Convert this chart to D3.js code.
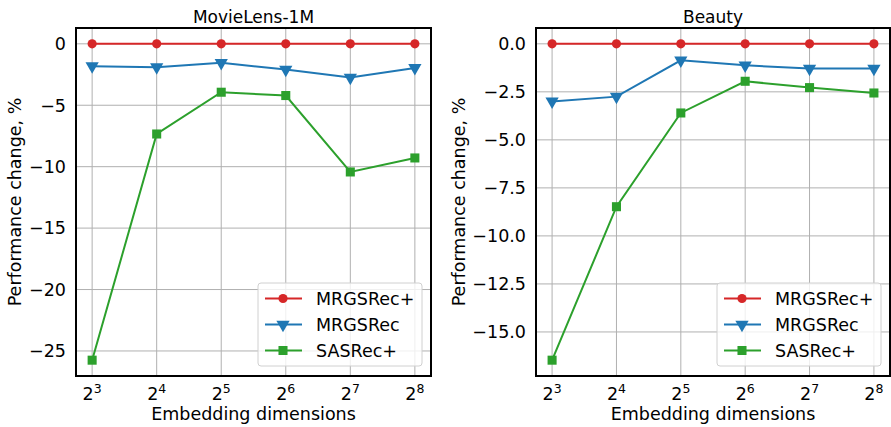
<!DOCTYPE html>
<html>
<head>
<meta charset="utf-8">
<script src="https://cdn.jsdelivr.net/npm/d3@7"></script>
<style>
  body { margin: 0; background: #fff; }
  svg text { font-family: "DejaVu Sans", sans-serif; fill: #000; }
</style>
</head>
<body>
<div id="chart"></div>
<script>
// x values are embedding dimensions 2^3 .. 2^8
const exponents = [3, 4, 5, 6, 7, 8];
const seriesNames = ["MRGSRec+", "MRGSRec", "SASRec+"];
const seriesColors = ["#d62728", "#1f77b4", "#2ca02c"];
const seriesSymbols = ["circle", "triangle", "square"];

const movielensMRGSRecPlus = [0, 0, 0, 0, 0, 0];
const movielensMRGSRec = [-1.82, -1.9, -1.55, -2.1, -2.75, -1.96];
const movielensSASRecPlus = [-25.75, -7.34, -3.94, -4.21, -10.43, -9.29];
const movielensYTicks = [0, -5, -10, -15, -20, -25];

const beautyMRGSRecPlus = [0, 0, 0, 0, 0, 0];
const beautyMRGSRec = [-3.0, -2.75, -0.86, -1.12, -1.29, -1.29];
const beautySASRecPlus = [-16.47, -8.48, -3.6, -1.95, -2.28, -2.56];
const beautyYTicks = [0, -2.5, -5, -7.5, -10, -12.5, -15];

const W = 891, H = 427;
const plotTop = 28, plotBottom = 376;
const fontSize = "17.5px";

const svg = d3.select("#chart")
    .append("svg")
    .attr("width", W)
    .attr("height", H);

function drawPanel(opts) {
    const { left, right, title, series, yTicks, yFormat, yLabelX } = opts;

    const all = series.flat();
    const lo = d3.min(all), hi = d3.max(all);
    const pad = (hi - lo) * 0.05;

    const x = d3.scaleLog().base(2)
        .domain([Math.pow(2, 2.75), Math.pow(2, 8.25)])
        .range([left, right]);

    const y = d3.scaleLinear()
        .domain([lo - pad, hi + pad])
        .range([plotBottom, plotTop]);

    const g = svg.append("g");

    // grid
    g.append("g")
        .selectAll("line")
        .data(exponents)
        .join("line")
        .attr("x1", d => x(Math.pow(2, d)))
        .attr("x2", d => x(Math.pow(2, d)))
        .attr("y1", plotTop)
        .attr("y2", plotBottom)
        .attr("stroke", "#b0b0b0")
        .attr("stroke-width", 1);

    g.append("g")
        .selectAll("line")
        .data(yTicks)
        .join("line")
        .attr("x1", left)
        .attr("x2", right)
        .attr("y1", d => y(d))
        .attr("y2", d => y(d))
        .attr("stroke", "#b0b0b0")
        .attr("stroke-width", 1);

    // y tick labels
    g.append("g")
        .selectAll("text")
        .data(yTicks)
        .join("text")
        .attr("x", left - 10)
        .attr("y", d => y(d))
        .attr("dy", "0.36em")
        .attr("text-anchor", "end")
        .style("font-size", fontSize)
        .text(d => yFormat(d));

    // x tick labels: 2^n
    const xt = g.append("g")
        .selectAll("text")
        .data(exponents)
        .join("text")
        .attr("x", d => x(Math.pow(2, d)))
        .attr("y", 399.5)
        .attr("text-anchor", "middle")
        .style("font-size", fontSize);
    xt.append("tspan").text("2");
    xt.append("tspan")
        .attr("dy", -7)
        .style("font-size", "12.5px")
        .text(d => d);

    // lines and markers
    const line = d3.line()
        .x((d, i) => x(Math.pow(2, exponents[i])))
        .y(d => y(d));

    const symbolFor = {
        circle: d3.symbol().type(d3.symbolCircle).size(66),
        square: d3.symbol().type(d3.symbolSquare).size(82),
        triangle: d3.symbol().type(d3.symbolTriangle).size(76)
    };

    series.forEach((vals, si) => {
        g.append("path")
            .datum(vals)
            .attr("fill", "none")
            .attr("stroke", seriesColors[si])
            .attr("stroke-width", 2)
            .attr("d", line);

        g.append("g")
            .selectAll("path")
            .data(vals)
            .join("path")
            .attr("d", symbolFor[seriesSymbols[si]])
            .attr("transform", (d, i) => {
                const rot = seriesSymbols[si] === "triangle" ? " rotate(180)" : "";
                return `translate(${x(Math.pow(2, exponents[i]))},${y(d)})${rot}`;
            })
            .attr("fill", seriesColors[si]);
    });

    // frame
    g.append("rect")
        .attr("x", left)
        .attr("y", plotTop)
        .attr("width", right - left)
        .attr("height", plotBottom - plotTop)
        .attr("fill", "none")
        .attr("stroke", "#000")
        .attr("stroke-width", 2);

    // title
    g.append("text")
        .attr("x", (left + right) / 2)
        .attr("y", 23)
        .attr("text-anchor", "middle")
        .style("font-size", "17px")
        .text(title);

    // axis labels
    g.append("text")
        .attr("x", (left + right) / 2)
        .attr("y", 420)
        .attr("text-anchor", "middle")
        .style("font-size", fontSize)
        .text("Embedding dimensions");

    g.append("text")
        .attr("transform", `translate(${yLabelX},${(plotTop + plotBottom) / 2}) rotate(-90)`)
        .attr("text-anchor", "middle")
        .style("font-size", fontSize)
        .text("Performance change, %");

    // legend
    const lgW = 164, lgH = 83;
    const lgX = right - 9 - lgW, lgY = plotBottom - 10 - lgH;
    const lg = g.append("g").attr("transform", `translate(${lgX},${lgY})`);
    lg.append("rect")
        .attr("width", lgW)
        .attr("height", lgH)
        .attr("rx", 3)
        .attr("fill", "#fff")
        .attr("fill-opacity", 0.8)
        .attr("stroke", "#d0d0d0");

    seriesNames.forEach((name, si) => {
        const cy = 15.5 + si * 26;
        lg.append("line")
            .attr("x1", 7).attr("x2", 44)
            .attr("y1", cy).attr("y2", cy)
            .attr("stroke", seriesColors[si])
            .attr("stroke-width", 2);
        const rot = seriesSymbols[si] === "triangle" ? " rotate(180)" : "";
        lg.append("path")
            .attr("d", symbolFor[seriesSymbols[si]])
            .attr("transform", `translate(25,${cy})${rot}`)
            .attr("fill", seriesColors[si]);
        lg.append("text")
            .attr("x", 58)
            .attr("y", cy)
            .attr("dy", "0.36em")
            .style("font-size", fontSize)
            .text(name);
    });
}

drawPanel({
    left: 76, right: 431,
    title: "MovieLens-1M",
    series: [movielensMRGSRecPlus, movielensMRGSRec, movielensSASRecPlus],
    yTicks: movielensYTicks,
    yFormat: d3.format("d"),
    yLabelX: 21
});

drawPanel({
    left: 536, right: 890,
    title: "Beauty",
    series: [beautyMRGSRecPlus, beautyMRGSRec, beautySASRecPlus],
    yTicks: beautyYTicks,
    yFormat: d3.format(".1f"),
    yLabelX: 465
});
</script>
</body>
</html>
